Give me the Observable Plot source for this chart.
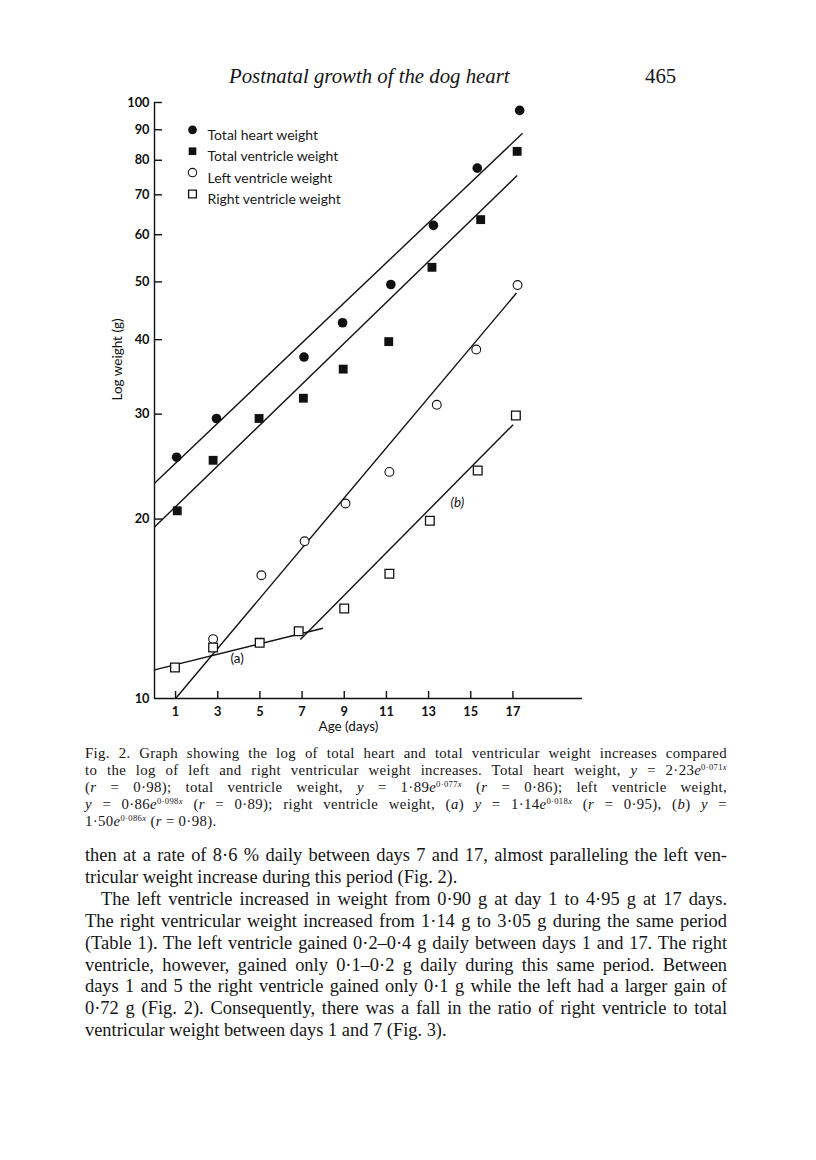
<!DOCTYPE html>
<html><head><meta charset="utf-8">
<script src="https://cdn.jsdelivr.net/npm/d3@7"></script>
<script src="https://cdn.jsdelivr.net/npm/@observablehq/plot@0.6"></script>
<style>
body{margin:0;background:#fff;width:816px;height:1160px;position:relative;overflow:hidden;font-family:"Liberation Serif","Times New Roman",serif;color:#151515;}
#hdr-title{position:absolute;top:64px;left:229px;font-size:20.8px;font-style:italic;line-height:24px;}
#hdr-page{position:absolute;top:64px;left:645px;font-size:20.8px;line-height:24px;}
#chart{position:absolute;top:90px;left:0;}
.para{position:absolute;left:85px;width:642px;}
.para .j{text-align:justify;text-align-last:justify;}
.para sup{font-size:0.58em;vertical-align:0.6em;line-height:0;}
#caption{top:745px;font-size:14.8px;line-height:16.9px;letter-spacing:0.35px;}
#body{top:845px;font-size:18.4px;line-height:21.9px;}
.ind{text-indent:16px;}
</style>
</head><body>
<div id="hdr-title">Postnatal growth of the dog heart</div>
<div id="hdr-page">465</div>
<div id="chart"></div>
<div id="caption" class="para">
<div class="j">Fig. 2. Graph showing the log of total heart and total ventricular weight increases compared</div>
<div class="j">to the log of left and right ventricular weight increases. Total heart weight, <i>y</i> = 2·23<i>e</i><sup>0·071<i>x</i></sup></div>
<div class="j">(<i>r</i> = 0·98); total ventricle weight, <i>y</i> = 1·89<i>e</i><sup>0·077<i>x</i></sup> (<i>r</i> = 0·86); left ventricle weight,</div>
<div class="j"><i>y</i> = 0·86<i>e</i><sup>0·098<i>x</i></sup> (<i>r</i> = 0·89); right ventricle weight, (<i>a</i>) <i>y</i> = 1·14<i>e</i><sup>0·018<i>x</i></sup> (<i>r</i> = 0·95), (<i>b</i>) <i>y</i> =</div>
<div>1·50<i>e</i><sup>0·086<i>x</i></sup> (<i>r</i> = 0·98).</div>
</div>
<div id="body" class="para">
<div class="j">then at a rate of 8·6 % daily between days 7 and 17, almost paralleling the left ven-</div>
<div>tricular weight increase during this period (Fig. 2).</div>
<div class="j ind">The left ventricle increased in weight from 0·90 g at day 1 to 4·95 g at 17 days.</div>
<div class="j">The right ventricular weight increased from 1·14 g to 3·05 g during the same period</div>
<div class="j">(Table 1). The left ventricle gained 0·2–0·4 g daily between days 1 and 17. The right</div>
<div class="j">ventricle, however, gained only 0·1–0·2 g daily during this same period. Between</div>
<div class="j">days 1 and 5 the right ventricle gained only 0·1 g while the left had a larger gain of</div>
<div class="j">0·72 g (Fig. 2). Consequently, there was a fall in the ratio of right ventricle to total</div>
<div>ventricular weight between days 1 and 7 (Fig. 3).</div>
</div>
<script>
// ---- data ----
const heartDays   = [1.05, 2.94, 7.09, 8.92, 11.21, 13.23, 15.31, 17.32];
const heartWeight = [25.4, 29.5, 37.4, 42.7, 49.5, 62.2, 77.6, 97.0];

const ventDays    = [1.08, 2.78, 4.96, 7.06, 8.95, 11.11, 13.16, 15.47, 17.2];
const ventWeight  = [20.65, 25.1, 29.5, 31.9, 35.7, 39.7, 52.9, 63.6, 82.8];

const leftDays    = [2.78, 5.07, 7.12, 9.06, 11.14, 13.39, 15.26, 17.22];
const leftWeight  = [12.58, 16.1, 18.36, 21.24, 24.0, 31.1, 38.5, 49.4];

const rightDays   = [0.97, 2.78, 4.99, 6.84, 9.0, 11.14, 13.06, 15.33, 17.14];
const rightWeight = [11.27, 12.18, 12.4, 12.97, 14.16, 16.19, 19.87, 24.13, 29.85];

// regression lines: start/end day and weight as drawn
const fitNames      = ["heart", "ventricle", "left", "right (a)", "right (b)"];
const fitStartDay   = [0, 0, 1.0, 0, 6.92];
const fitStartValue = [22.98, 19.39, 10.0, 11.17, 12.56];
const fitEndDay     = [17.46, 17.2, 17.17, 7.99, 17.01];
const fitEndValue   = [88.8, 75.4, 47.9, 13.12, 28.8];

const annotText  = ["(a)", "(b)"];
const annotDay   = [3.92, 14.36];
const annotValue = [11.66, 21.3];

const legendLabels = ["Total heart weight", "Total ventricle weight", "Left ventricle weight", "Right ventricle weight"];
const yTicks = [10, 20, 30, 40, 50, 60, 70, 80, 90, 100];
const xTicks = [1, 3, 5, 7, 9, 11, 13, 15, 17];
const xTitle = "Age (days)";
const xTitleDay = 9.2;
const yTitle = "Log weight (g)";

// ---- build tables ----
const zip = (xs, ys) => xs.map((x, i) => ({day: x, w: ys[i]}));
const heart = zip(heartDays, heartWeight);
const vent = zip(ventDays, ventWeight);
const left = zip(leftDays, leftWeight);
const right = zip(rightDays, rightWeight);
const fits = fitNames.map((n, i) => ({n, x1: fitStartDay[i], y1: fitStartValue[i], x2: fitEndDay[i], y2: fitEndValue[i]}));
const annots = annotText.map((t, i) => ({t, day: annotDay[i], w: annotValue[i]}));

const styles = [
  {symbol: "circle", fill: "#111", stroke: "none", r: 4.8, lr: 4.4},
  {symbol: "square", fill: "#111", stroke: "none", r: 5.0, lr: 4.3},
  {symbol: "circle", fill: "white", stroke: "#111", r: 4.4, lr: 4.2, sw: 1.1},
  {symbol: "square", fill: "white", stroke: "#111", r: 4.9, lr: 4.4, sw: 1.3}
];
const series = [heart, vent, left, right];

const W = 816, H = 658, mT = 12, mL = 154, mR = 234, mB = 50;
const frameW = W - mL - mR, frameH = H - mT - mB;

const legendMarks = legendLabels.flatMap((label, i) => [
  Plot.dot([label], {frameAnchor: "top-left", dx: 38, dy: 27.3 + i * 21.4, symbol: styles[i].symbol,
    fill: styles[i].fill, stroke: styles[i].stroke, strokeWidth: styles[i].sw || 1, r: styles[i].lr}),
  Plot.text([label], {frameAnchor: "top-left", dx: 53, dy: 27.3 + i * 21.4, text: d => d,
    textAnchor: "start", fontSize: 14, fill: "#1a1a1a"})
]);

const chart = Plot.plot({
  width: W, height: H, marginTop: mT, marginLeft: mL, marginRight: mR, marginBottom: mB,
  style: {fontFamily: "Lato, 'Open Sans', sans-serif", fontSize: "12px", color: "#111", background: "white"},
  x: {domain: [0, 20.3]},
  y: {type: "log", domain: [10, 100]},
  marks: [
    Plot.ruleX([0], {stroke: "#111", strokeWidth: 1.4}),
    Plot.ruleY([10], {stroke: "#111", strokeWidth: 1.4}),
    Plot.tickY(yTicks.filter(d => d > 10), {y: d => d, insetRight: frameW - 8, stroke: "#111", strokeWidth: 1.4}),
    Plot.tickX(xTicks, {x: d => d, insetTop: frameH - 7, stroke: "#111", strokeWidth: 1.4}),
    Plot.axisY(yTicks, {tickSize: 0, tickPadding: 5, tickFormat: d => String(d), label: null, fontWeight: "bold", fontSize: 12.8, fill: "#111"}),
    Plot.axisX(xTicks, {tickSize: 0, tickPadding: 8, tickFormat: d => String(d), label: null, fontWeight: "bold", fontSize: 12.8, fill: "#111"}),
    Plot.text([yTitle], {frameAnchor: "left", dx: -37, rotate: -90, text: d => d, fontSize: 13.5, fill: "#111"}),
    Plot.text([xTitle], {x: () => xTitleDay, frameAnchor: "bottom", dy: 32, text: d => d, fontSize: 13.5, fill: "#111"}),
    Plot.link(fits, {x1: "x1", y1: "y1", x2: "x2", y2: "y2", stroke: "#111", strokeWidth: 1.4}),
    ...series.map((data, i) => Plot.dot(data, {x: "day", y: "w", symbol: styles[i].symbol, fill: styles[i].fill,
      stroke: styles[i].stroke, strokeWidth: styles[i].sw || 1, r: styles[i].r})),
    Plot.text(annots.slice(0, 1), {x: "day", y: "w", text: "t", fontSize: 13.5, fill: "#111"}),
    Plot.text(annots.slice(1), {x: "day", y: "w", text: "t", fontSize: 13.5, fontStyle: "italic", fill: "#111"}),
    ...legendMarks
  ]
});
document.getElementById("chart").appendChild(chart);
</script>
</body></html>
